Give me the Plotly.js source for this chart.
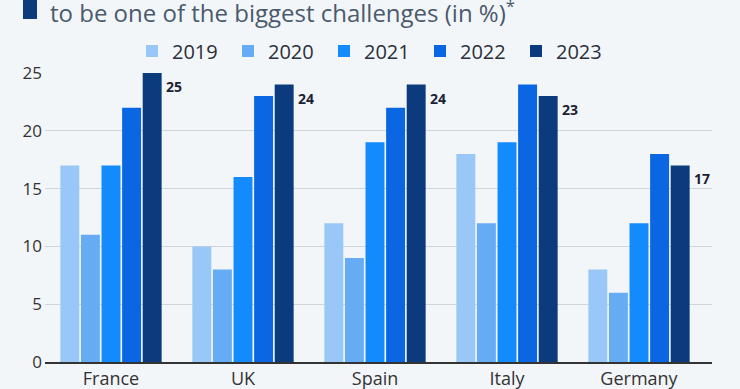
<!DOCTYPE html>
<html>
<head>
<meta charset="utf-8">
<script src="https://cdn.plot.ly/plotly-3.0.1.min.js"></script>
<style>
  html, body { margin: 0; padding: 0; background: #f3f6f9; }
  #chart { width: 740px; height: 389px; }
</style>
</head>
<body>
<div id="chart"></div>
<script>
const countries = ["France", "UK", "Spain", "Italy", "Germany"];
const years = ["2019", "2020", "2021", "2022", "2023"];
const v2019 = [17, 10, 12, 18, 8];
const v2020 = [11, 8, 9, 12, 6];
const v2021 = [17, 16, 19, 19, 12];
const v2022 = [22, 23, 22, 24, 18];
const v2023 = [25, 24, 24, 23, 17];
const yTicks = [0, 5, 10, 15, 20, 25];
const titleText = "to be one of the biggest challenges (in %)<sup>*</sup>";

const series = [v2019, v2020, v2021, v2022, v2023];
const colors = ["#99c8f8", "#66acf4", "#148bfc", "#0a66e2", "#0b3a7d"];

const traces = series.map((vals, i) => ({
  type: "bar",
  name: years[i],
  x: countries,
  y: vals,
  marker: { color: colors[i], line: { width: 0 } },
  hoverinfo: "none"
}));

const L = 45, R = 28, T = 73, B = 27, W = 740, H = 389;
const pw = W - L - R, ph = H - T - B;
const px = x => (x - L) / pw;
const py = y => (H - B - y) / ph;

const annotations = countries.map((c, i) => ({
  x: c, y: v2023[i], xref: "x", yref: "y",
  text: "<b>" + v2023[i] + "</b>",
  showarrow: false, xanchor: "left", yanchor: "top",
  xshift: 53, yshift: -2,
  font: { family: "Open Sans, sans-serif", size: 14, color: "#1c2233" }
}));
annotations.push({
  x: px(48), y: py(11), xref: "paper", yref: "paper",
  text: titleText, showarrow: false, xanchor: "left", yanchor: "middle",
  font: { family: "Open Sans, sans-serif", size: 24, color: "#4a5a6d" }
});

const layout = {
  width: W, height: H,
  paper_bgcolor: "#f3f6f9", plot_bgcolor: "#f3f6f9",
  margin: { l: L, r: R, t: T, b: B, pad: 0 },
  barmode: "group", bargap: 0.22, bargroupgap: 0.08,
  font: { family: "Open Sans, sans-serif", color: "#333" },
  showlegend: true,
  legend: {
    orientation: "h", x: px(372), xanchor: "center", y: py(51), yanchor: "middle",
    font: { size: 20, color: "#2b2f3a" }, itemwidth: 30,
    entrywidth: 51, entrywidthmode: "pixels",
    bgcolor: "rgba(0,0,0,0)"
  },
  xaxis: {
    type: "category", tickfont: { size: 18, color: "#333" },
    showgrid: false, showline: true, linecolor: "#333", linewidth: 1.5,
    ticks: "", ticklabelstandoff: 0
  },
  yaxis: {
    range: [0, 25], tickvals: yTicks, ticktext: yTicks.map(String),
    tickfont: { size: 17, color: "#333" },
    showgrid: true, gridcolor: "#cfd5dc", gridwidth: 1,
    zeroline: false, showline: false, ticks: "", ticklabelstandoff: 2
  },
  shapes: [{
    type: "rect", xref: "paper", yref: "paper",
    x0: px(23), x1: px(37), y0: py(19), y1: py(-2),
    fillcolor: "#0b3a7d", line: { width: 0 }
  }],
  annotations: annotations
};

Plotly.newPlot("chart", traces, layout, { displayModeBar: false, staticPlot: true });
</script>
</body>
</html>
